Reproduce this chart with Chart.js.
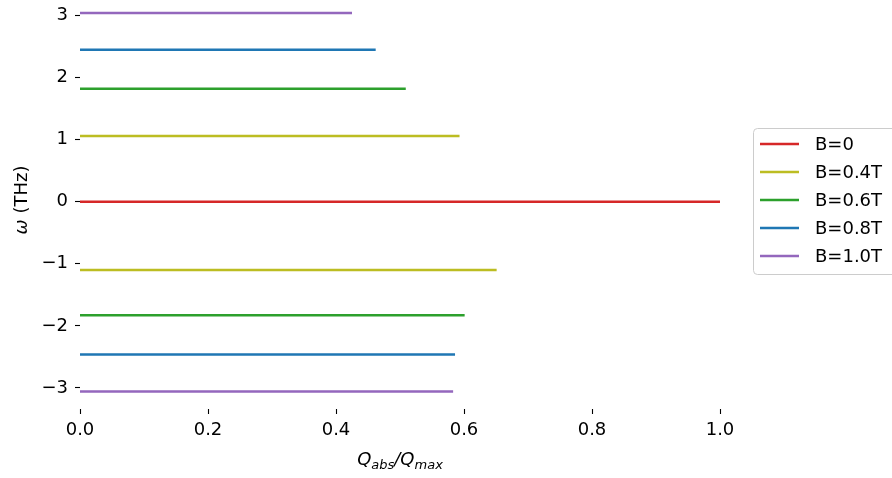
<!DOCTYPE html>
<html>
<head>
<meta charset="utf-8">
<script src="https://cdn.jsdelivr.net/npm/chart.js@4.4.1/dist/chart.umd.min.js"></script>
<style>
  html, body { margin: 0; padding: 0; background: #fff; }
  #wrap { width: 892px; height: 478px; position: relative; }
</style>
</head>
<body>
<div id="wrap"><canvas id="grafico"></canvas></div>
<script>
// Dados
const series = ['B=0', 'B=0.4T', 'B=0.6T', 'B=0.8T', 'B=1.0T'];
const cores = ['#d62728', '#bcbd22', '#2ca02c', '#1f77b4', '#9467bd'];
const omegaPos = [0, 1.06, 1.82, 2.45, 3.04];
const qPos = [1.0, 0.593, 0.509, 0.462, 0.425];
const omegaNeg = [null, -1.10, -1.83, -2.46, -3.06];
const qNeg = [null, 0.651, 0.601, 0.586, 0.583];
const xTicks = [0, 0.2, 0.4, 0.6, 0.8, 1.0];
const yTicks = [-3, -2, -1, 0, 1, 2, 3];

const FONTE = 'DejaVu Sans';

const datasets = series.map((nome, i) => {
    const pts = [{ x: 0, y: omegaPos[i] }, { x: qPos[i], y: omegaPos[i] }];
    if (omegaNeg[i] !== null) {
        pts.push({ x: qPos[i] / 2, y: null });
        pts.push({ x: 0, y: omegaNeg[i] }, { x: qNeg[i], y: omegaNeg[i] });
    }
    return {
        label: nome,
        data: pts,
        borderColor: cores[i],
        backgroundColor: cores[i],
        borderWidth: 2.5,
        pointRadius: 0,
        spanGaps: false,
        tension: 0
    };
});

// Titulos dos eixos com subscritos e legenda com moldura
const extras = {
    id: 'extras',
    afterDraw(chart) {
        const ctx = chart.ctx;
        const area = chart.chartArea;
        ctx.save();
        ctx.fillStyle = '#000';
        ctx.textBaseline = 'alphabetic';

        // titulo x: Q_abs/Q_max
        const partes = [
            ['Q', 18, 0], ['abs', 13, 4], ['/Q', 18, 0], ['max', 13, 4]
        ];
        let larg = 0;
        partes.forEach(p => {
            ctx.font = 'italic ' + p[1] + 'px "' + FONTE + '"';
            larg += ctx.measureText(p[0]).width;
        });
        let x = (area.left + area.right) / 2 - larg / 2;
        partes.forEach(p => {
            ctx.font = 'italic ' + p[1] + 'px "' + FONTE + '"';
            ctx.fillText(p[0], x, 465 + p[2]);
            x += ctx.measureText(p[0]).width;
        });

        // titulo y: omega (THz)
        ctx.save();
        ctx.translate(22, 200);
        ctx.rotate(-Math.PI / 2);
        ctx.textBaseline = 'middle';
        ctx.font = 'italic 18px "' + FONTE + '"';
        const w1 = ctx.measureText('ω').width;
        ctx.font = '18px "' + FONTE + '"';
        const w2 = ctx.measureText(' (THz)').width;
        let xx = -(w1 + w2) / 2;
        ctx.font = 'italic 18px "' + FONTE + '"';
        ctx.fillText('ω', xx, 0);
        ctx.font = '18px "' + FONTE + '"';
        ctx.fillText(' (THz)', xx + w1, 0);
        ctx.restore();

        // legenda
        const lx = 753.5, ly = 128.5, lw = 150, lh = 146;
        ctx.beginPath();
        ctx.roundRect(lx, ly, lw, lh, 4);
        ctx.fillStyle = 'rgba(255,255,255,0.8)';
        ctx.fill();
        ctx.strokeStyle = '#cccccc';
        ctx.lineWidth = 1;
        ctx.stroke();
        ctx.font = '18px "' + FONTE + '"';
        ctx.textBaseline = 'middle';
        chart.data.datasets.forEach((ds, i) => {
            const yy = 144 + 28 * i;
            ctx.strokeStyle = ds.borderColor;
            ctx.lineWidth = 2.5;
            ctx.beginPath();
            ctx.moveTo(760, yy);
            ctx.lineTo(799, yy);
            ctx.stroke();
            ctx.fillStyle = '#000';
            ctx.fillText(ds.label, 815, yy + 1);
        });
        ctx.restore();
    }
};

const ctx = document.getElementById('grafico').getContext('2d');
new Chart(ctx, {
    type: 'line',
    data: { datasets: datasets },
    plugins: [extras],
    options: {
        responsive: true,
        maintainAspectRatio: false,
        animation: false,
        layout: { padding: { top: 0, right: 172, bottom: 0, left: 0 } },
        plugins: {
            legend: { display: false },
            tooltip: { enabled: false }
        },
        scales: {
            x: {
                type: 'linear',
                min: 0,
                max: 1.0,
                afterFit: s => { s.height = 69; s.paddingLeft = 0; s.paddingRight = 0; },
                afterBuildTicks: s => { s.ticks = xTicks.map(v => ({ value: v })); },
                grid: { drawOnChartArea: false, drawTicks: true, tickLength: 5, color: '#000', tickWidth: 1.1 },
                border: { display: false },
                ticks: {
                    color: '#000',
                    padding: 6,
                    font: { family: FONTE, size: 18 },
                    maxRotation: 0,
                    callback: v => v.toFixed(1)
                }
            },
            y: {
                type: 'linear',
                min: -3.34,
                max: 3.25,
                afterFit: s => { s.width = 80; s.paddingTop = 0; s.paddingBottom = 0; },
                afterBuildTicks: s => { s.ticks = yTicks.map(v => ({ value: v })); },
                grid: { drawOnChartArea: false, drawTicks: true, tickLength: 5, color: '#000', tickWidth: 1.1 },
                border: { display: false },
                ticks: {
                    color: '#000',
                    padding: 7,
                    font: { family: FONTE, size: 18 },
                    callback: v => (v < 0 ? '\u2212' + Math.abs(v) : String(v))
                }
            }
        }
    }
});
</script>
</body>
</html>
